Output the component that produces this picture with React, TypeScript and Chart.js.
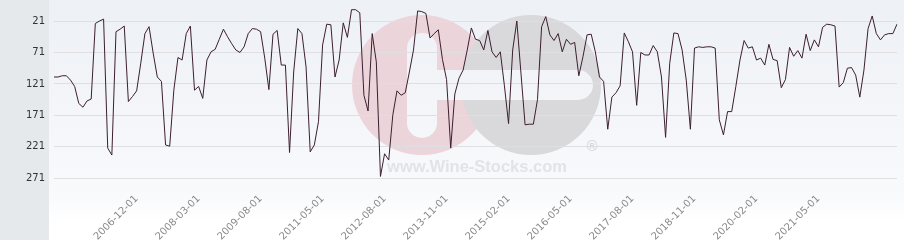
import React, { useEffect, useRef } from 'react';
import { Chart, registerables } from 'chart.js';

Chart.register(...registerables);

const months: string[] = [
  '2005-04-01','2005-05-01','2005-06-01','2005-07-01','2005-08-01','2005-09-01','2005-10-01','2005-11-01','2005-12-01',
  '2006-01-01','2006-02-01','2006-03-01','2006-04-01','2006-05-01','2006-06-01','2006-07-01','2006-08-01','2006-09-01','2006-10-01','2006-11-01','2006-12-01',
  '2007-01-01','2007-02-01','2007-03-01','2007-04-01','2007-05-01','2007-06-01','2007-07-01','2007-08-01','2007-09-01','2007-10-01','2007-11-01','2007-12-01',
  '2008-01-01','2008-02-01','2008-03-01','2008-04-01','2008-05-01','2008-06-01','2008-07-01','2008-08-01','2008-09-01','2008-10-01','2008-11-01',
  '2009-02-01','2009-03-01','2009-04-01','2009-05-01','2009-06-01','2009-07-01','2009-08-01','2009-09-01','2009-10-01','2009-11-01','2009-12-01',
  '2010-07-01','2010-08-01','2010-09-01','2010-10-01','2010-11-01','2010-12-01',
  '2011-01-01','2011-02-01','2011-03-01','2011-04-01','2011-05-01','2011-06-01','2011-07-01','2011-08-01','2011-09-01','2011-10-01','2011-11-01','2011-12-01',
  '2012-01-01','2012-02-01','2012-03-01','2012-04-01','2012-05-01','2012-06-01','2012-07-01','2012-08-01','2012-09-01','2012-10-01','2012-11-01','2012-12-01',
  '2013-01-01','2013-02-01','2013-03-01','2013-04-01','2013-05-01','2013-06-01','2013-07-01','2013-08-01','2013-09-01','2013-10-01','2013-11-01','2013-12-01',
  '2014-01-01','2014-02-01','2014-03-01','2014-04-01','2014-05-01','2014-06-01','2014-07-01','2014-08-01','2014-09-01','2014-10-01','2014-11-01','2014-12-01',
  '2015-01-01','2015-02-01','2015-03-01','2015-04-01','2015-05-01','2015-06-01','2015-07-01','2015-08-01','2015-09-01','2015-10-01','2015-11-01','2015-12-01',
  '2016-01-01','2016-02-01','2016-03-01','2016-04-01','2016-05-01','2016-06-01','2016-07-01','2016-08-01','2016-09-01','2016-10-01','2016-11-01','2016-12-01',
  '2017-01-01','2017-02-01','2017-03-01','2017-04-01','2017-05-01','2017-06-01','2017-07-01','2017-08-01','2017-09-01','2017-10-01','2017-11-01','2017-12-01',
  '2018-01-01','2018-02-01','2018-03-01','2018-04-01','2018-05-01','2018-06-01','2018-07-01','2018-08-01','2018-09-01','2018-10-01','2018-11-01','2018-12-01',
  '2019-01-01','2019-02-01','2019-03-01','2019-04-01','2019-05-01','2019-06-01','2019-07-01','2019-08-01','2019-09-01','2019-10-01','2019-11-01','2019-12-01',
  '2020-01-01','2020-02-01','2020-03-01','2020-04-01','2020-05-01','2020-06-01','2020-07-01','2020-08-01','2020-09-01','2020-10-01','2020-11-01','2020-12-01',
  '2021-01-01','2021-02-01','2021-03-01','2021-04-01','2021-05-01','2021-06-01','2021-07-01','2021-08-01','2021-09-01','2021-10-01','2021-11-01','2021-12-01',
  '2022-01-01','2022-02-01','2022-03-01','2022-04-01','2022-05-01','2022-06-01','2022-07-01','2022-08-01','2022-09-01','2022-10-01','2022-11-01','2022-12-01',
];

const ranks: number[] = [
  110, 110, 108, 108, 115, 125, 152, 158, 148, 145,
  25, 21, 18, 223, 234, 38, 34, 29, 149, 141,
  132, 88, 41, 30, 72, 110, 117, 218, 220, 131,
  79, 83, 41, 29, 131, 125, 144, 83, 70, 66,
  50, 34, 46, 57, 67, 71, 62, 41, 33, 34,
  38, 80, 130, 42, 36, 91, 91, 230, 102, 33,
  41, 94, 229, 218, 181, 59, 26, 27, 110, 83,
  24, 47, 3, 3, 8, 139, 164, 41, 86, 268,
  232, 242, 170, 132, 139, 135, 102, 67, 5, 6,
  9, 48, 41, 35, 82, 114, 223, 137, 112, 99,
  67, 32, 50, 52, 67, 36, 70, 79, 70, 124,
  184, 67, 21, 104, 186, 185, 185, 146, 30, 14,
  43, 52, 41, 70, 50, 58, 55, 108, 78, 43,
  42, 70, 110, 117, 193, 142, 135, 124, 40, 54,
  70, 155, 71, 75, 75, 60, 70, 110, 206, 88,
  40, 41, 67, 115, 193, 64, 62, 63, 62, 62,
  64, 178, 202, 165, 165, 125, 83, 52, 64, 62,
  83, 80, 91, 58, 82, 84, 127, 114, 63, 77,
  68, 80, 42, 68, 51, 62, 31, 26, 27, 29,
  126, 119, 96, 95, 107, 142, 99, 33, 13, 41,
  51, 43, 41, 41, 26,
];

const shownLabels: string[] = [
  '2006-12-01', '2008-03-01', '2009-08-01', '2011-05-01', '2012-08-01', '2013-11-01',
  '2015-02-01', '2016-05-01', '2017-08-01', '2018-11-01', '2020-02-01', '2021-05-01',
];

const yTickValues: number[] = [21, 71, 121, 171, 221, 271];
const Y_MIN = -12.4;
const Y_MAX = 289.6;

function roundedBar(ctx: CanvasRenderingContext2D, x: number, y: number, w: number, h: number, r: number) {
  ctx.beginPath();
  ctx.moveTo(x + r, y);
  ctx.lineTo(x + w - r, y);
  ctx.arcTo(x + w, y, x + w, y + r, r);
  ctx.lineTo(x + w, y + h - r);
  ctx.arcTo(x + w, y + h, x + w - r, y + h, r);
  ctx.lineTo(x + r, y + h);
  ctx.arcTo(x, y + h, x, y + h - r, r);
  ctx.lineTo(x, y + r);
  ctx.arcTo(x, y, x + r, y, r);
  ctx.closePath();
  ctx.fill();
}

const backgroundPlugin = {
  id: 'backgroundPlugin',
  beforeDraw(chart: any) {
    const { ctx, width, height } = chart;
    ctx.save();
    const g = ctx.createLinearGradient(0, 0, 0, height);
    g.addColorStop(0, '#edf0f5');
    g.addColorStop(0.82, '#f9fafc');
    g.addColorStop(0.92, '#ffffff');
    g.addColorStop(1, '#ffffff');
    ctx.fillStyle = g;
    ctx.fillRect(0, 0, width, height);
    ctx.fillStyle = '#e6e9ec';
    ctx.fillRect(0, 0, 49, height);

    // watermark logo
    ctx.fillStyle = '#ecd4db';
    ctx.beginPath();
    ctx.arc(422, 85, 70, 0, Math.PI * 2);
    ctx.fill();
    ctx.fillStyle = '#d9d9dc';
    ctx.beginPath();
    ctx.arc(531, 85, 70, 0, Math.PI * 2);
    ctx.fill();
    ctx.fillStyle = g;
    roundedBar(ctx, 407, 33, 30, 105, 15);
    roundedBar(ctx, 420, 70, 173, 30, 15);

    ctx.fillStyle = '#e2e3e6';
    ctx.font = 'bold 16.5px "Liberation Sans", Arial, sans-serif';
    ctx.textAlign = 'center';
    ctx.textBaseline = 'alphabetic';
    ctx.fillText('www.Wine-Stocks.com', 477, 172);
    ctx.fillStyle = '#d9d9dc';
    ctx.font = 'bold 15px "Liberation Sans", Arial, sans-serif';
    ctx.fillText('\u00AE', 592, 151);
    ctx.restore();
  },
};

export default function App() {
  const canvasRef = useRef<HTMLCanvasElement | null>(null);

  useEffect(() => {
    const canvas = canvasRef.current;
    if (!canvas) return;
    const chart = new Chart(canvas, {
      type: 'line',
      data: {
        labels: months,
        datasets: [
          {
            data: ranks,
            borderColor: '#3c1f2f',
            borderWidth: 1,
            pointRadius: 0,
            pointHoverRadius: 0,
            tension: 0,
            fill: false,
          },
        ],
      },
      options: {
        animation: false,
        responsive: false,
        devicePixelRatio: 1,
        layout: { padding: { top: 0, right: 7, bottom: 0, left: 0 } },
        plugins: {
          legend: { display: false },
          tooltip: { enabled: false },
        },
        scales: {
          x: {
            grid: { display: false, drawTicks: false },
            border: { display: false },
            ticks: {
              autoSkip: false,
              minRotation: 45,
              maxRotation: 45,
              padding: 3,
              color: '#8a8a8a',
              font: { family: '"DejaVu Sans", sans-serif', size: 10 },
              callback: (_v: any, i: number) => (shownLabels.includes(months[i]) ? months[i] : ''),
            },
            afterFit: (s: any) => {
              s.height = 50;
              s.paddingLeft = 0;
              s.paddingRight = 0;
            },
          },
          y: {
            reverse: true,
            min: Y_MIN,
            max: Y_MAX,
            grid: { color: '#dedfe2', lineWidth: 1, drawTicks: false },
            border: { display: false },
            afterBuildTicks: (s: any) => {
              s.ticks = yTickValues.map((v) => ({ value: v }));
            },
            ticks: {
              padding: 9,
              color: '#333333',
              font: { family: '"DejaVu Sans", sans-serif', size: 10 },
            },
            afterFit: (s: any) => {
              s.width = 54;
              s.paddingTop = 0;
              s.paddingBottom = 0;
            },
          },
        },
      },
      plugins: [backgroundPlugin],
    } as any);
    return () => chart.destroy();
  }, []);

  return (
    <div style={{ position: 'absolute', left: 0, top: 0, width: 904, height: 240 }}>
      <canvas ref={canvasRef} width={904} height={240} style={{ display: 'block', width: 904, height: 240 }} />
    </div>
  );
}
